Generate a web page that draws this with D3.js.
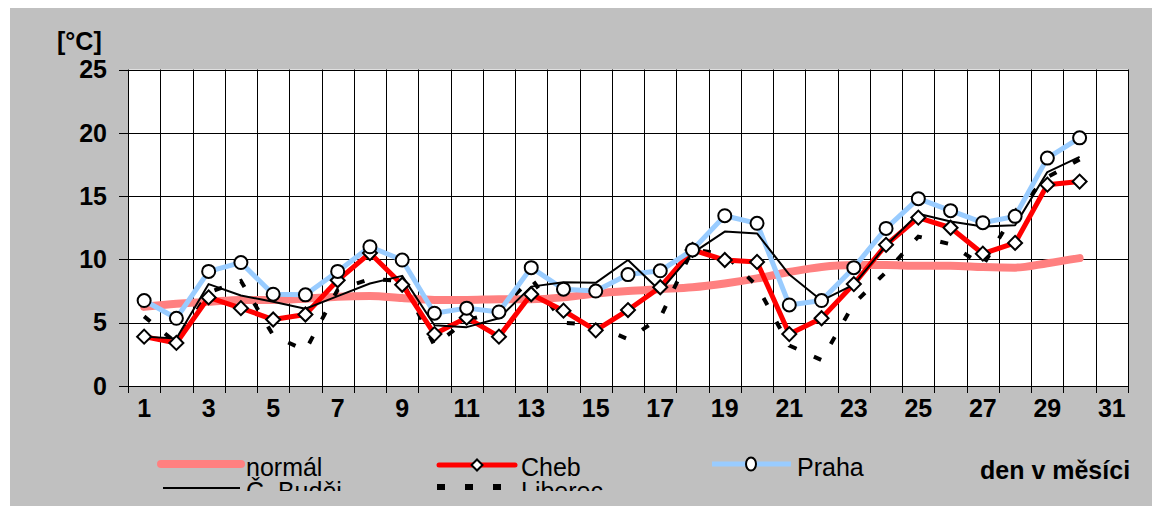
<!DOCTYPE html>
<html><head><meta charset="utf-8">
<script src="https://cdn.jsdelivr.net/npm/d3@7"></script>
<style>
body{margin:0;background:#fff}
svg{display:block}
text{font-family:Arial,"Liberation Sans",Helvetica,sans-serif}
</style>
</head><body>
<svg id="chart" width="1152" height="506"></svg>
<script>
// ---- data ----
const axisDays = [1,2,3,4,5,6,7,8,9,10,11,12,13,14,15,16,17,18,19,20,21,22,23,24,25,26,27,28,29,30,31];
const days = [1,2,3,4,5,6,7,8,9,10,11,12,13,14,15,16,17,18,19,20,21,22,23,24,25,26,27,28,29,30];
const tickLabels = ["1","3","5","7","9","11","13","15","17","19","21","23","25","27","29","31"];
const yTicks = [0,5,10,15,20,25];

const normal = [6.25,6.5,6.65,6.8,6.8,6.9,7.05,7.1,6.95,6.8,6.8,6.85,6.85,7.0,7.3,7.5,7.65,7.8,8.1,8.5,9.0,9.4,9.55,9.55,9.5,9.5,9.4,9.35,9.7,10.1];
const cheb = [3.9,3.4,7.0,6.15,5.25,5.65,8.35,10.5,8.0,4.1,5.4,3.9,7.25,5.95,4.4,6.0,7.8,10.75,9.95,9.8,4.1,5.35,8.05,11.15,13.3,12.5,10.45,11.3,15.9,16.15];
const praha = [6.75,5.35,9.05,9.75,7.25,7.2,9.05,11.0,9.95,5.75,6.15,5.85,9.35,7.65,7.5,8.8,9.1,10.75,13.45,12.85,6.4,6.75,9.35,12.45,14.8,13.85,12.9,13.4,18.0,19.6];
const budejovice = [3.9,3.75,8.05,7.15,6.65,6.1,7.1,8.1,8.7,4.8,4.65,5.35,7.85,8.2,8.15,9.95,7.5,10.5,12.2,12.05,8.8,6.75,8.0,11.1,13.6,13.0,12.6,12.7,16.9,18.1];
const liberec = [5.5,3.4,7.4,8.3,4.0,2.8,7.6,8.45,8.3,3.2,5.2,5.9,8.5,5.0,4.8,3.7,5.4,10.8,10.4,7.9,3.2,2.05,6.5,9.0,11.8,11.2,9.5,13.8,16.5,17.9];

const seriesNames = ["normál","Cheb","Praha","Č. Buděj","Liberec"];
const yUnit = "[°C]";
const xTitle = "den v měsíci";

// ---- layout ----
const svg = d3.select("#chart");
const L = 128, R = 1128, T = 69.5, B = 386;

svg.append("rect").attr("x",10).attr("y",8).attr("width",1142).attr("height",498).attr("fill","#c0c0c0");
svg.append("rect").attr("x",L).attr("y",T).attr("width",R-L).attr("height",B-T).attr("fill","#fff");

const x = d3.scaleBand().domain(axisDays).range([L,R]).padding(0);
const y = d3.scaleLinear().domain([0,25]).range([B,T]);
const cx = d => x(d) + x.bandwidth()/2;

// grid
const grid = svg.append("g");
const bounds = axisDays.map(d => x(d)).concat([x(axisDays[axisDays.length-1]) + x.bandwidth()]);
grid.selectAll("line.v").data(bounds).join("line")
  .attr("x1",d=>Math.round(d)+0.5).attr("x2",d=>Math.round(d)+0.5)
  .attr("y1",T).attr("y2",B+7).attr("stroke","#000").attr("stroke-width",1);
grid.selectAll("line.h").data(yTicks).join("line")
  .attr("x1",L-9).attr("x2",R).attr("y1",d=>Math.round(y(d))+0.5).attr("y2",d=>Math.round(y(d))+0.5)
  .attr("stroke","#000").attr("stroke-width",1);

// y axis labels
svg.append("g").selectAll("text").data(yTicks).join("text")
  .attr("x",107).attr("y",d=>y(d)).attr("dy","0.35em").attr("text-anchor","end")
  .attr("font-size",25).attr("font-weight","bold").text(d=>d);
svg.append("text").attr("x",57).attr("y",50).attr("font-size",25).attr("font-weight","bold").text(yUnit);

// x axis labels
svg.append("g").selectAll("text").data(tickLabels).join("text")
  .attr("x",d=>cx(+d)).attr("y",408).attr("dy","0.35em").attr("text-anchor","middle")
  .attr("font-size",25).attr("font-weight","bold").text(d=>d);
svg.append("text").attr("x",980).attr("y",479).attr("font-size",25).attr("font-weight","bold").text(xTitle);

// lines
const line = d3.line().x((v,i)=>cx(days[i])).y(v=>y(v));
const smooth = d3.line().x((v,i)=>cx(days[i])).y(v=>y(v)).curve(d3.curveMonotoneX);

const plot = svg.append("g");
plot.append("path").attr("d",smooth(normal)).attr("fill","none").attr("stroke","#ff8080").attr("stroke-width",8).attr("stroke-linecap","round").attr("stroke-linejoin","round");
plot.append("path").attr("d",line(liberec)).attr("fill","none").attr("stroke","#000").attr("stroke-width",4).attr("stroke-dasharray","8,19");
plot.append("path").attr("d",line(cheb)).attr("fill","none").attr("stroke","#ff0000").attr("stroke-width",5).attr("stroke-linejoin","round");
plot.append("path").attr("d",line(praha)).attr("fill","none").attr("stroke","#99ccff").attr("stroke-width",5).attr("stroke-linejoin","round");
plot.append("path").attr("d",line(budejovice)).attr("fill","none").attr("stroke","#000").attr("stroke-width",2).attr("stroke-linejoin","round");

const diamond = d3.symbol().type(d3.symbolSquare).size(98);
plot.append("g").selectAll("path").data(cheb).join("path")
  .attr("d",diamond).attr("transform",(v,i)=>`translate(${cx(days[i])},${y(v)}) rotate(45)`)
  .attr("fill","#fff").attr("stroke","#000").attr("stroke-width",2);
plot.append("g").selectAll("circle").data(praha).join("circle")
  .attr("cx",(v,i)=>cx(days[i])).attr("cy",v=>y(v)).attr("r",6.5)
  .attr("fill","#fff").attr("stroke","#000").attr("stroke-width",2);

// legend
const defs = svg.append("defs");
defs.append("clipPath").attr("id","lc").append("rect").attr("x",100).attr("y",440).attr("width",800).attr("height",51);
const lg = svg.append("g").attr("clip-path","url(#lc)");
lg.append("line").attr("x1",161).attr("x2",241).attr("y1",464).attr("y2",464).attr("stroke","#ff8080").attr("stroke-width",8).attr("stroke-linecap","round");
lg.append("line").attr("x1",163).attr("x2",240).attr("y1",488).attr("y2",488).attr("stroke","#000").attr("stroke-width",2);
lg.append("line").attr("x1",439).attr("x2",515).attr("y1",465).attr("y2",465).attr("stroke","#ff0000").attr("stroke-width",5).attr("stroke-linecap","round");
lg.append("path").attr("d",d3.symbol().type(d3.symbolSquare).size(60)).attr("transform","translate(477,465) rotate(45)").attr("fill","#fff").attr("stroke","#000").attr("stroke-width",2);
lg.append("line").attr("x1",437).attr("x2",515).attr("y1",487).attr("y2",487).attr("stroke","#000").attr("stroke-width",6).attr("stroke-dasharray","8,20");
lg.append("line").attr("x1",712).attr("x2",791).attr("y1",464).attr("y2",464).attr("stroke","#99ccff").attr("stroke-width",5);
lg.append("ellipse").attr("cx",751).attr("cy",464).attr("rx",5).attr("ry",6.5).attr("fill","#fff").attr("stroke","#000").attr("stroke-width",2);
const lt = [[246,476,0],[246,500,3],[521,476,1],[521,500,4],[797,476,2]];
lg.selectAll("text").data(lt).join("text").attr("x",d=>d[0]).attr("y",d=>d[1]).attr("font-size",25).text(d=>seriesNames[d[2]]);
</script>
</body></html>
